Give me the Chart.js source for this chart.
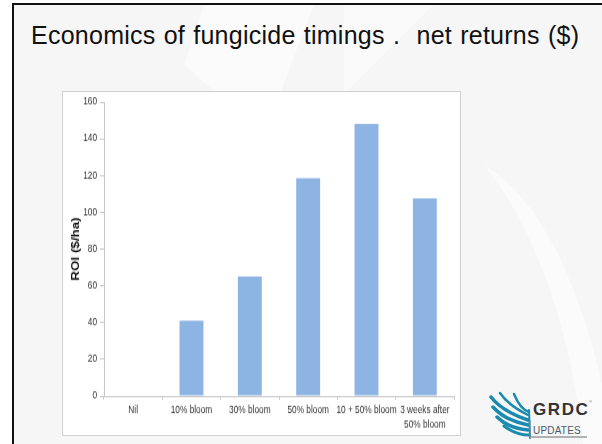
<!DOCTYPE html>
<html>
<head>
<meta charset="utf-8">
<script src="https://cdn.jsdelivr.net/npm/chart.js@4.4.1/dist/chart.umd.min.js"></script>
<style>
  html,body{margin:0;padding:0;background:#fff;}
  body{width:602px;height:444px;overflow:hidden;position:relative;font-family:"Liberation Sans",Arial,sans-serif;}
  .slide{position:absolute;left:12px;top:3px;width:600px;height:450px;background:#f6f6f6;
         border-left:2px solid #111;border-top:2px solid #111;overflow:hidden;}
  .wm{position:absolute;left:0;top:0;}
  .title{position:absolute;left:31px;top:23px;font-size:25px;line-height:25px;color:#111;white-space:nowrap;
         letter-spacing:0.25px;word-spacing:1px;}
  .box{position:absolute;left:62px;top:91px;width:397px;height:343px;background:#fff;border:1px solid #d0d0d0;}
  /* the chart picture on the slide is stretched vertically */
  .wrap{position:absolute;left:62px;top:91px;width:399px;height:283px;transform:scaleY(1.22);transform-origin:0 0;}
  .logo{position:absolute;left:488px;top:390px;}
</style>
</head>
<body>
<div class="slide">
  <svg class="wm" width="600" height="450">
    <polygon points="190,0 300,0 250,130 170,60" fill="#ffffff" opacity="0.55"/>
    <polygon points="330,0 420,0 330,90" fill="#ffffff" opacity="0.35"/>
    <path d="M470,160 C520,220 560,330 570,450 L600,450 C585,330 540,200 470,160 Z" fill="#ffffff" opacity="0.6"/>
  </svg>
</div>
<div class="title">Economics of fungicide timings .&nbsp; net returns ($)</div>
<div class="box"></div>
<div class="wrap"><canvas id="chart" width="399" height="283"></canvas></div>
<svg class="logo" width="112" height="54">
  <g fill="none" stroke="#1b8ab0" stroke-linecap="round">
    <path d="M3,7 C10,16 22,24 40,30" stroke-width="3.5"/>
    <path d="M5,17 C13,26 25,32 40,35" stroke-width="3.5"/>
    <path d="M9,27 C17,35 28,39 40,40" stroke-width="3.5"/>
    <path d="M16,36 C24,42 32,45 41,45" stroke-width="3"/>
    <path d="M12,3 C18,12 28,19 40,25" stroke-width="2.5"/>
    <path d="M26,4 C30,14 35,20 41,22" stroke-width="2.5"/>
    <path d="M41,20 L42,48" stroke-width="2"/>
  </g>
  <text x="45" y="25" font-family="Liberation Sans, Arial, sans-serif" font-weight="bold" font-size="17" fill="#333" letter-spacing="1.6">GRDC</text>
  <text x="101" y="13" font-family="Liberation Sans, Arial, sans-serif" font-size="4" fill="#555">®</text>
  <line x1="42" y1="30" x2="42" y2="47" stroke="#888" stroke-width="1"/>
  <text x="45" y="44" font-family="Liberation Sans, Arial, sans-serif" font-size="10" fill="#4a5a66" letter-spacing="0.2">UPDATES</text>
  <line x1="42" y1="47" x2="99" y2="47" stroke="#999" stroke-width="1.5"/>
</svg>
<script>
const categories = ["Nil", "10% bloom", "30% bloom", "50% bloom", "10 + 50% bloom", ["3 weeks after", "50% bloom"]];
const roiValues = [0, 41, 65, 118.5, 148, 107.5];
const yTicks = [0, 20, 40, 60, 80, 100, 120, 140, 160];

const tickFont = {family: "'Liberation Sans', Arial, sans-serif", size: 8.3, lineHeight: 1.4};

new Chart(document.getElementById("chart"), {
  type: "bar",
  data: {
    labels: categories,
    datasets: [{
      data: roiValues,
      backgroundColor: "#8eb4e3",
      borderWidth: 0,
      barPercentage: 0.41,
      categoryPercentage: 1
    }]
  },
  options: {
    responsive: false,
    animation: false,
    devicePixelRatio: 1,
    layout: {padding: {top: 9, right: 7, left: 0, bottom: 0}},
    plugins: {legend: {display: false}, tooltip: {enabled: false}},
    scales: {
      x: {
        grid: {display: true, drawOnChartArea: false, color: "#c8c8c8", tickLength: 3, offset: true},
        border: {color: "#c8c8c8"},
        ticks: {color: "#333333", font: tickFont, padding: 3, maxRotation: 0, autoSkip: false},
        afterFit: s => { s.height = 33; }
      },
      y: {
        min: 0, max: 160,
        afterBuildTicks: s => { s.ticks = yTicks.map(v => ({value: v})); },
        grid: {display: true, drawOnChartArea: false, color: "#c8c8c8", tickLength: 4},
        border: {color: "#c8c8c8"},
        ticks: {color: "#333333", font: tickFont, padding: 3},
        title: {display: true, text: "ROI ($/ha)", color: "#111",
                font: {family: "'Liberation Sans', Arial, sans-serif", size: 11, weight: "bold"},
                padding: {top: 7, bottom: 0}},
        afterFit: s => { s.width = 42; }
      }
    }
  }
});
</script>
</body>
</html>
